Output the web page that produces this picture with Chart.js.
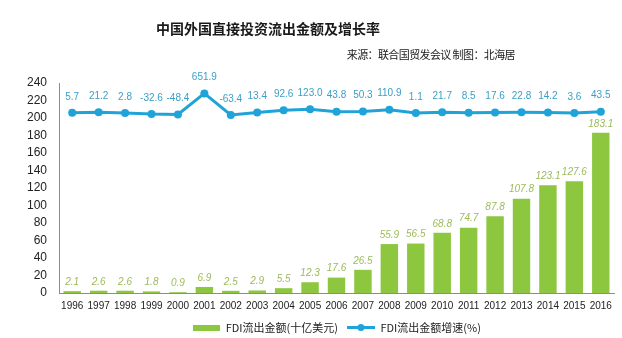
<!DOCTYPE html>
<html>
<head>
<meta charset="utf-8">
<script src="https://cdn.jsdelivr.net/npm/chart.js@4.4.1/dist/chart.umd.min.js"></script>
<style>
  html, body { margin: 0; padding: 0; background: #fff; }
  #wrap { position: relative; width: 622px; height: 338px; }
  #title { position: absolute; left: 0; width: 536px; top: 18px; line-height: 20px; text-align: center;
           font: bold 14px 'Noto Sans CJK SC', sans-serif; color: #1a1a1a; }
  #source { position: absolute; right: 107px; top: 46px; line-height: 16px; letter-spacing: -0.6px;
            font: 11px 'Noto Sans CJK SC', sans-serif; color: #1a1a1a; }
  canvas { position: absolute; left: 0; top: 0; }
</style>
</head>
<body>
<div id="wrap">
  <canvas id="fdiChart" width="622" height="338"></canvas>
  <div id="title">中国外国直接投资流出金额及增长率</div>
  <div id="source">来源：联合国贸发会议 制图：北海居</div>
</div>
<script>
const years = ['1996','1997','1998','1999','2000','2001','2002','2003','2004','2005','2006',
               '2007','2008','2009','2010','2011','2012','2013','2014','2015','2016'];
// FDI 流出金额 (十亿美元)
const fdiOutflow = [2.1, 2.6, 2.6, 1.8, 0.9, 6.9, 2.5, 2.9, 5.5, 12.3, 17.6,
                    26.5, 55.9, 56.5, 68.8, 74.7, 87.8, 107.8, 123.1, 127.6, 183.1];
// FDI 流出金额增速 (%)
const fdiGrowth = [5.7, 21.2, 2.8, -32.6, -48.4, 651.9, -63.4, 13.4, 92.6, 123.0, 43.8,
                   50.3, 110.9, 1.1, 21.7, 8.5, 17.6, 22.8, 14.2, 3.6, 43.5];
const yTicks = [0, 20, 40, 60, 80, 100, 120, 140, 160, 180, 200, 220, 240];

const GREEN = '#8dc63f';
const BLUE = '#1fa3d9';
const NUM_FONT = "'Liberation Sans', Arial, sans-serif";
const CJK_FONT = "'Noto Sans CJK SC', sans-serif";

// legend swatches
function makeSwatch(w, h, draw) {
    const c = document.createElement('canvas');
    c.width = w; c.height = h;
    draw(c.getContext('2d'));
    return c;
}
const barSwatch = makeSwatch(27, 6, g => { g.fillStyle = GREEN; g.fillRect(0, 0, 27, 6); });
const lineSwatch = makeSwatch(28, 9, g => {
    g.strokeStyle = BLUE; g.lineWidth = 3;
    g.beginPath(); g.moveTo(0, 4.5); g.lineTo(28, 4.5); g.stroke();
    g.fillStyle = BLUE; g.beginPath(); g.arc(14, 4.5, 3.5, 0, Math.PI * 2); g.fill();
});

// value labels above bars and points
const valueLabels = {
    id: 'valueLabels',
    afterDatasetsDraw(chart) {
        const ctx = chart.ctx;
        chart.data.datasets.forEach((ds, i) => {
            const meta = chart.getDatasetMeta(i);
            ctx.save();
            ctx.textAlign = 'center';
            ctx.textBaseline = 'middle';
            if (ds.type === 'line') {
                ctx.font = '10px ' + NUM_FONT;
                ctx.fillStyle = '#3b9fc6';
            } else {
                ctx.font = 'italic 10px ' + NUM_FONT;
                ctx.fillStyle = '#9bbb59';
            }
            const off = ds.type === 'line' ? 16 : 9;
            meta.data.forEach((el, j) => {
                ctx.fillText(ds.data[j].toFixed(1), el.x, el.y - off);
            });
            ctx.restore();
        });
    }
};

new Chart(document.getElementById('fdiChart'), {
    data: {
        labels: years,
        datasets: [
            {
                type: 'line',
                label: 'FDI流出金额增速(%)',
                data: fdiGrowth,
                yAxisID: 'y2',
                borderColor: BLUE,
                backgroundColor: BLUE,
                borderWidth: 3,
                pointRadius: 4,
                pointBackgroundColor: BLUE,
                pointBorderWidth: 0,
                tension: 0,
                order: 0
            },
            {
                type: 'bar',
                label: 'FDI流出金额(十亿美元)',
                data: fdiOutflow,
                yAxisID: 'y',
                backgroundColor: GREEN,
                categoryPercentage: 0.66,
                barPercentage: 1,
                order: 1
            }
        ]
    },
    options: {
        responsive: false,
        animation: false,
        layout: { padding: { top: 83, right: 8, left: 0, bottom: 0 } },
        plugins: {
            tooltip: { enabled: false },
            legend: {
                position: 'bottom',
                fullSize: false,
                reverse: true,
                maxHeight: 25,
                labels: {
                    usePointStyle: true,
                    pointStyleWidth: 28,
                    padding: 9,
                    color: '#222',
                    font: { size: 11, family: CJK_FONT },
                    generateLabels(chart) {
                        const items = Chart.defaults.plugins.legend.labels.generateLabels(chart);
                        items.forEach(it => {
                            it.pointStyle = it.datasetIndex === 1 ? barSwatch : lineSwatch;
                        });
                        return items;
                    }
                }
            }
        },
        scales: {
            x: {
                afterFit: s => { s.height = 20; },
                grid: { display: false, drawTicks: false, tickLength: 0 },
                border: { display: true, color: '#8c8c8c', width: 1 },
                ticks: { color: '#222', font: { size: 10, family: NUM_FONT }, maxRotation: 0, autoSkip: false, padding: 7 }
            },
            y: {
                position: 'left',
                min: 0,
                max: 240,
                afterBuildTicks: s => { s.ticks = yTicks.map(v => ({ value: v })); },
                afterFit: s => { s.width = 59; },
                grid: { display: false, drawTicks: false, tickLength: 0 },
                border: { display: true, color: '#8c8c8c', width: 1 },
                ticks: { color: '#222', font: { size: 12, family: NUM_FONT }, padding: 12, autoSkip: false }
            },
            y2: {
                display: false,
                min: -6000,
                max: 1000
            }
        }
    },
    plugins: [valueLabels]
});
</script>
</body>
</html>
